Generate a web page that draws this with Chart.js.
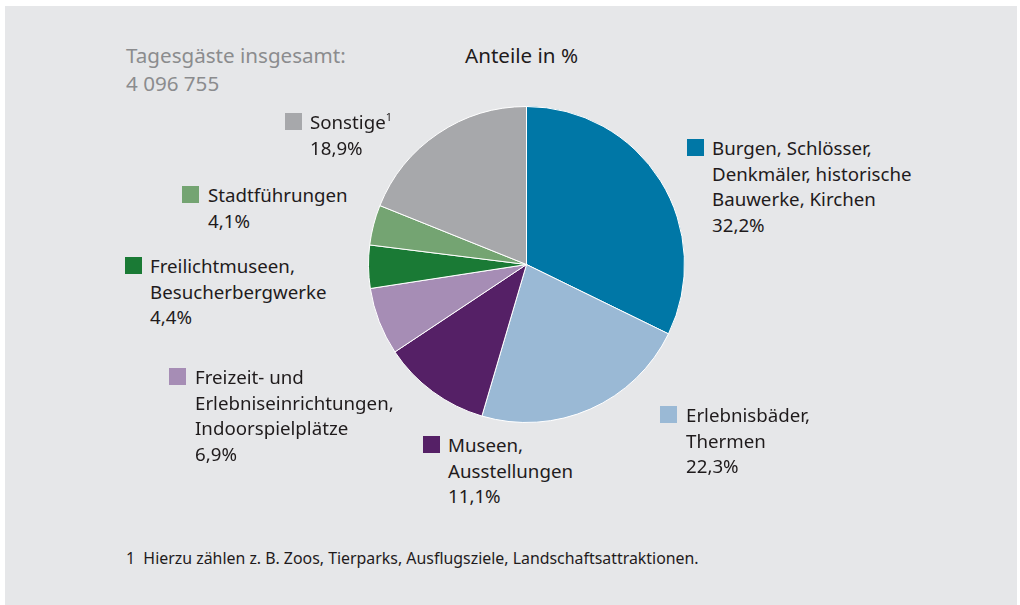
<!DOCTYPE html>
<html lang="de">
<head>
<meta charset="utf-8">
<script src="https://cdn.jsdelivr.net/npm/chart.js@4.4.1/dist/chart.umd.min.js"></script>
<style>
    html, body { margin: 0; padding: 0; background: #ffffff; }
    body { width: 1020px; height: 605px; position: relative; overflow: hidden; font-family: "Noto Sans", "Open Sans", sans-serif; color: #1f1b1c; }
    #panel { position: absolute; left: 5px; top: 6px; width: 1012px; height: 599px; background: #e6e7e9; }
    #pieBox { position: absolute; left: 368px; top: 106px; width: 317px; height: 317px; }
    .total { position: absolute; left: 126px; top: 41px; font-size: 20.6px; line-height: 28px; color: #8b8c8e; }
    .title { position: absolute; left: 465px; top: 41px; font-size: 20.6px; line-height: 28px; }
    .lbl { position: absolute; font-size: 18.7px; line-height: 25.5px; white-space: pre; }
    .lbl .sq { position: absolute; width: 17px; height: 17px; top: 4px; }
    .lbl sup { font-size: 11px; line-height: 0; position: relative; top: -1px; }
    .foot { position: absolute; left: 126px; top: 547px; font-size: 15.9px; line-height: 22px; }
</style>
</head>
<body>
<div id="panel"></div>
<div class="total">Tagesgäste insgesamt:<br>4 096 755</div>
<div class="title">Anteile in %</div>
<div id="pieBox"><canvas id="pieChart"></canvas></div>
<div id="labels"></div>
<div class="foot">1&nbsp; Hierzu zählen z. B. Zoos, Tierparks, Ausflugsziele, Landschaftsattraktionen.</div>

<script>
// Daten (im Uhrzeigersinn ab 12 Uhr)
const categories = [
    'Burgen, Schlösser,\nDenkmäler, historische\nBauwerke, Kirchen',
    'Erlebnisbäder,\nThermen',
    'Museen,\nAusstellungen',
    'Freizeit- und\nErlebniseinrichtungen,\nIndoorspielplätze',
    'Freilichtmuseen,\nBesucherbergwerke',
    'Stadtführungen',
    'Sonstige'
];
const shares = [32.2, 22.3, 11.1, 6.9, 4.4, 4.1, 18.9];
const footnoteMarks = ['', '', '', '', '', '', '1'];

const colors = ['#0077a6', '#9ab9d5', '#552066', '#a68db5', '#1a7a35', '#74a472', '#a7a8ab'];

// Position der Beschriftungen (linke Kante Quadrat, Oberkante erste Zeile)
const labelPos = [
    [687, 135], [660, 402], [423, 432], [169, 364], [125, 253], [182, 182], [285, 109]
];
const textIndent = [25, 26, 25, 26, 25, 26, 25];

function formatShare(v) {
    return v.toFixed(1).replace('.', ',') + '%';
}

// Beschriftungen erzeugen
function buildLabels() {
    const box = document.getElementById('labels');
    categories.forEach((cat, i) => {
        const div = document.createElement('div');
        div.className = 'lbl';
        div.style.left = labelPos[i][0] + 'px';
        div.style.top = labelPos[i][1] + 'px';
        div.style.paddingLeft = textIndent[i] + 'px';

        const sq = document.createElement('span');
        sq.className = 'sq';
        sq.style.left = '0px';
        sq.style.background = colors[i];
        div.appendChild(sq);

        const txt = document.createElement('span');
        txt.textContent = cat;
        div.appendChild(txt);
        if (footnoteMarks[i]) {
            const sup = document.createElement('sup');
            sup.textContent = footnoteMarks[i];
            div.appendChild(sup);
        }
        div.appendChild(document.createTextNode('\n' + formatShare(shares[i])));
        box.appendChild(div);
    });
}

function drawPie() {
    const ctx = document.getElementById('pieChart').getContext('2d');
    new Chart(ctx, {
        type: 'pie',
        data: {
            labels: categories,
            datasets: [{
                data: shares,
                backgroundColor: colors,
                borderColor: '#ffffff',
                borderWidth: 1
            }]
        },
        options: {
            responsive: true,
            maintainAspectRatio: false,
            animation: false,
            layout: { padding: 0 },
            plugins: {
                legend: { display: false },
                tooltip: { enabled: false }
            }
        }
    });
}

buildLabels();
drawPie();
</script>
</body>
</html>
